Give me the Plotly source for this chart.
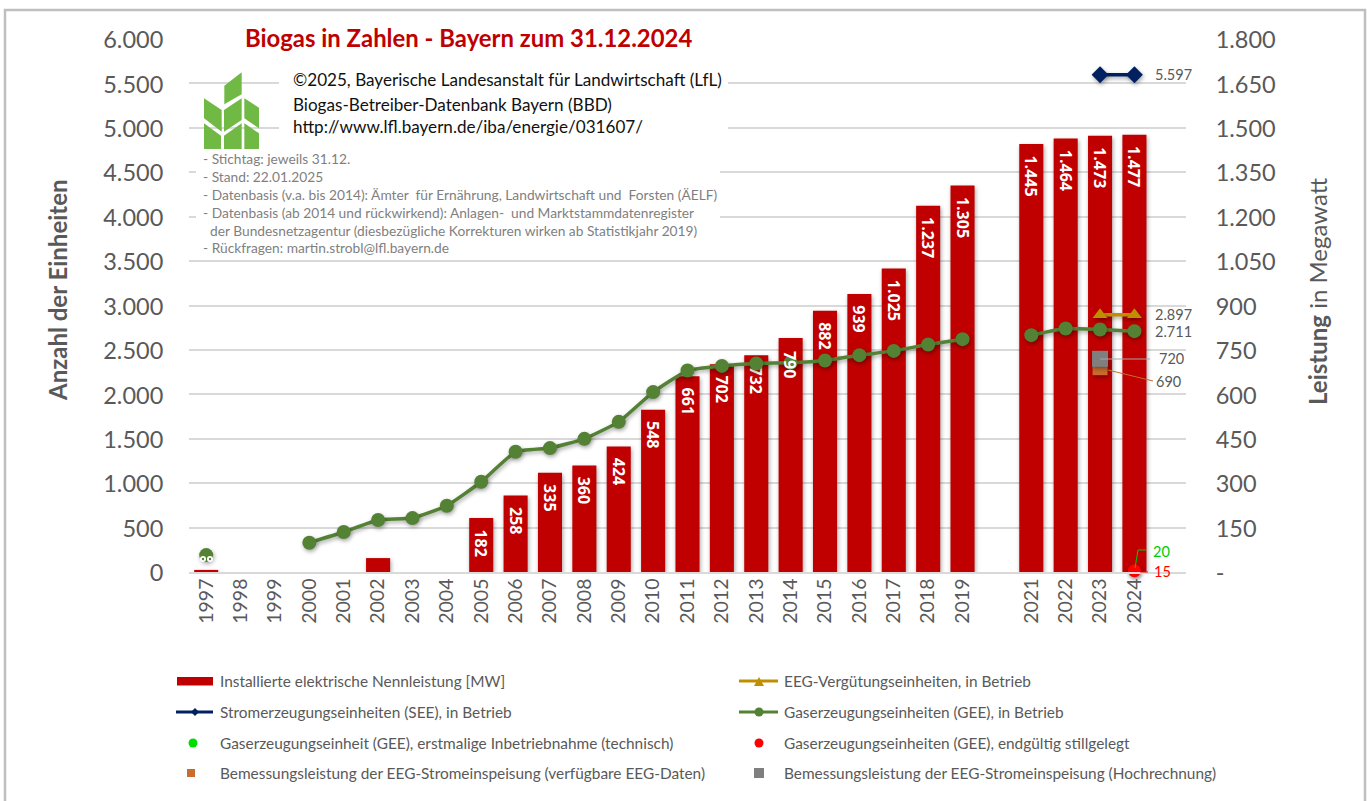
import plotly.graph_objects as go

categories = ["1997","1998","1999","2000","2001","2002","2003","2004","2005","2006","2007","2008","2009","2010",
              "2011","2012","2013","2014","2015","2016","2017","2018","2019"," ","2021","2022","2023","2024","  "]
leistung_mw = [7,None,None,None,None,47,None,None,182,258,335,360,424,548,661,702,732,790,882,939,1025,1237,1305,None,1445,1464,1473,1477,None]
gee_betrieb = [190,None,None,330,450,585,607,746,1016,1353,1395,1499,1690,2025,2268,2320,2347,2356,2381,2441,2489,2561,2621,None,2666,2741,2730,2711,None]
see_betrieb = {"2023":5597,"2024":5597}
eeg_betrieb = {"2023":2897,"2024":2897}
gee_neu = {"2024":20}
gee_still = {"2024":15}
bem_eeg = {"2023":690}
bem_hoch = {"2023":720}
left_ticks = [0,500,1000,1500,2000,2500,3000,3500,4000,4500,5000,5500,6000]
right_ticks = [0,150,300,450,600,750,900,1050,1200,1350,1500,1650,1800]
right_labels = ["-","150","300","450","600","750","900","1.050","1.200","1.350","1.500","1.650","1.800"]

FONT = "Lato"
GREY = "#595959"
RED = "#c00000"
GREEN = "#548235"
NAVY = "#002060"
GOLD = "#bf8f00"
ORANGE = "#c96c2e"
SQ = "#7f7f7f"
L, R, T, B = 189, 1186, 39, 572


def X(p):
    return (p - L) / (R - L)


def Y(p):
    return (B - p) / (B - T)


def fmt(v):
    return f"{v:,}".replace(",", ".")


LABEL_FONT = dict(family="Open Sans", size=16, color="white", weight="bold")
# the 2014 label sits in front of the GEE line, so it is drawn as an annotation
bar_text = ["\u00a0\u00a0" + fmt(v) if v and v > 100 and c != "2014" else "" for c, v in zip(categories, leistung_mw)]

fig = go.Figure()
fig.add_bar(x=categories, y=leistung_mw, yaxis="y", marker=dict(color=RED, line=dict(width=0)), width=0.7,
            text=bar_text, textposition="inside", insidetextanchor="end", textangle=90, constraintext="none",
            textfont=LABEL_FONT,
            name="Installierte elektrische Nennleistung [MW]", showlegend=False, cliponaxis=False)


def pts(name, d, axis, color, symbol, size, line=False):
    fig.add_scatter(x=list(d), y=list(d.values()), yaxis=axis, name=name, showlegend=False,
                    mode="lines+markers" if line else "markers", cliponaxis=False,
                    line=dict(color=color, width=3.5), marker=dict(color=color, symbol=symbol, size=size))


pts("Bemessungsleistung der EEG-Stromeinspeisung (verfügbare EEG-Daten)", bem_eeg, "y", ORANGE, "square", 15)
pts("Bemessungsleistung der EEG-Stromeinspeisung (Hochrechnung)", bem_hoch, "y", SQ, "square", 16)
fig.add_scatter(x=categories, y=gee_betrieb, yaxis="y2", mode="lines+markers", name="Gaserzeugungseinheiten (GEE), in Betrieb",
                showlegend=False, connectgaps=False, cliponaxis=False,
                line=dict(color=GREEN, width=3.5, shape="spline", smoothing=0.4),
                marker=dict(color=GREEN, size=14))
pts("EEG-Vergütungseinheiten, in Betrieb", eeg_betrieb, "y2", GOLD, "triangle-up", 13, True)
pts("Stromerzeugungseinheiten (SEE), in Betrieb", see_betrieb, "y2", NAVY, "diamond", 13, True)
pts("Gaserzeugungseinheit (GEE), erstmalige Inbetriebnahme (technisch)", gee_neu, "y2", "#00cc00", "circle", 11)
pts("Gaserzeugungseinheiten (GEE), endgültig stillgelegt", gee_still, "y2", "#ff0000", "circle", 13)

shapes = []


def rect(x0, y0, x1, y1, fill, line=None, lw=0):
    shapes.append(dict(type="rect", xref="paper", yref="paper", x0=X(x0), x1=X(x1), y0=Y(y0), y1=Y(y1),
                       fillcolor=fill, line=dict(color=line or fill, width=lw), layer="above"))


def poly(points, fill):
    path = "M " + " L ".join(f"{X(a):.5f},{Y(b):.5f}" for a, b in points) + " Z"
    shapes.append(dict(type="path", xref="paper", yref="paper", path=path, fillcolor=fill, line=dict(width=0), layer="above"))


def seg(points, color, w):
    path = "M " + " L ".join(f"{X(a):.5f},{Y(b):.5f}" for a, b in points)
    shapes.append(dict(type="path", xref="paper", yref="paper", path=path, line=dict(color=color, width=w), layer="above"))


def dot(cx, cy, r, color, line=None, lw=0):
    shapes.append(dict(type="circle", xref="paper", yref="paper", x0=X(cx - r), x1=X(cx + r), y0=Y(cy - r), y1=Y(cy + r),
                       fillcolor=color, line=dict(color=line or color, width=lw), layer="above"))


# frame
rect(5, 10, 1365, 812, "rgba(0,0,0,0)", "#bfbfbf", 2.5)
# white text backgrounds over the gridlines
rect(232, 26, 742, 50, "white")
rect(279, 70, 728, 140, "white")
rect(196, 150, 720, 255, "white")

# logo
LOGO = "#70b944"
for leaf in [[(88,62),(140,22),(140,88),(88,118)], [(27,100),(80,135),(80,200),(27,160)], [(87,135),(140,100),(140,165),(87,200)],
             [(148,100),(192,128),(192,190),(148,160)], [(27,175),(78,212),(78,252),(27,252)], [(87,212),(140,175),(140,252),(87,252)],
             [(148,175),(192,205),(192,252),(148,252)]]:
    poly([(195 + a / 3, 65 + b / 3) for a, b in leaf], LOGO)

# small markers under the 1997 point
for cx in (203, 210):
    dot(cx, 559, 3, "white")
    dot(cx, 559, 1.2, GREEN)

# leader lines
seg([(1100, 359), (1150, 359)], "#a6a6a6", 1)
seg([(1108, 370), (1153, 381)], ORANGE, 1)
seg([(1135, 568), (1138, 550), (1146, 550)], "#00cc00", 1)
seg([(1140, 572), (1148, 572)], "#ff0000", 1)

# legend keys
ROW = [681, 712, 743, 773]
rect(177, 677, 213, 685.5, RED)
seg([(176, 712), (213, 712)], NAVY, 3)
poly([(195, 708), (199, 712), (195, 716), (191, 712)], NAVY)
seg([(739, 681), (778, 681)], GOLD, 3)
poly([(759, 677), (764, 686), (754, 686)], GOLD)
seg([(739, 712), (778, 712)], GREEN, 3)
dot(759, 712, 4.5, GREEN)
dot(193, 743, 4.5, "#00dd00")
dot(759, 743, 4.5, "#ff0000")
rect(187, 769, 195, 777, ORANGE)
rect(754, 768, 764, 778, SQ)

ann = []


def txt(x, y, s, size, color=GREY, bold=False, anchor="left", angle=0):
    ann.append(dict(xref="paper", yref="paper", x=X(x), y=Y(y), text=s, showarrow=False, xanchor=anchor, yanchor="middle", textangle=angle,
                    font=dict(family=FONT, size=size, color=color, weight="bold" if bold else "normal"), align="left"))


def val(cat, v, yax, s, color, shift, size=14.5):
    ann.append(dict(xref="x", yref=yax, x=categories.index(cat), y=v, text=s, showarrow=False, xanchor="left", yanchor="middle", xshift=shift[0], yshift=shift[1],
                    font=dict(family=FONT, size=size, color=color)))


txt(468, 38, "Biogas in Zahlen - Bayern zum 31.12.2024", 23.9, RED, True, "center")
txt(291, 80, "©2025, Bayerische Landesanstalt für Landwirtschaft (LfL)", 17.1, "#111111")
txt(291, 104, "Biogas-Betreiber-Datenbank Bayern (BBD)", 17.1, "#111111")
txt(291, 126, "http://www.lfl.bayern.de/iba/energie/031607/", 17.1, "#111111")
notes = ["- Stichtag: jeweils 31.12.", "- Stand: 22.01.2025",
         "- Datenbasis (v.a. bis 2014): Ämter\u00a0 für Ernährung, Landwirtschaft und\u00a0 Forsten (ÄELF)",
         "- Datenbasis (ab 2014 und rückwirkend): Anlagen-\u00a0 und Marktstammdatenregister",
         "\u00a0\u00a0der Bundesnetzagentur (diesbezügliche Korrekturen wirken ab Statistikjahr 2019)",
         "- Rückfragen: martin.strobl@lfl.bayern.de"]
for y, s in zip([158, 176, 194, 212, 230, 248], notes):
    txt(201, y, s, 13.75, "#7f7f7f")

val("2024", see_betrieb["2024"], "y2", fmt(see_betrieb["2024"]), GREY, (19, 0))
val("2024", eeg_betrieb["2024"], "y2", fmt(eeg_betrieb["2024"]), GREY, (19, 0))
val("2024", gee_betrieb[27], "y2", fmt(gee_betrieb[27]), GREY, (19, 0))
val("2023", bem_hoch["2023"], "y", fmt(bem_hoch["2023"]), GREY, (57, 0))
val("2023", bem_eeg["2023"], "y", fmt(bem_eeg["2023"]), GREY, (54, -14))
val("2024", gee_neu["2024"], "y2", str(gee_neu["2024"]), "#00cc00", (17, 19))
val("2024", gee_still["2024"], "y2", str(gee_still["2024"]), "#ff0000", (18, -1))

ann.append(dict(xref="x", yref="y", x=categories.index("2014"), y=leistung_mw[categories.index("2014")], text=fmt(leistung_mw[categories.index("2014")]),
                showarrow=False, textangle=90, xanchor="center", yanchor="top", yshift=-11, font=LABEL_FONT))

txt(57, 291, "<b>Anzahl der Einheiten</b>", 24, GREY, False, "center", -90)
txt(1317, 291, "<b>Leistung</b> in Megawatt", 24, GREY, False, "center", -90)

legend_rows = [(218, ROW[0], "Installierte elektrische Nennleistung [MW]"), (782, ROW[0], "EEG-Vergütungseinheiten, in Betrieb"),
               (218, ROW[1], "Stromerzeugungseinheiten (SEE), in Betrieb"), (782, ROW[1], "Gaserzeugungseinheiten (GEE), in Betrieb"),
               (218, ROW[2], "Gaserzeugungseinheit (GEE), erstmalige Inbetriebnahme (technisch)"), (782, ROW[2], "Gaserzeugungseinheiten (GEE), endgültig stillgelegt"),
               (218, ROW[3], "Bemessungsleistung der EEG-Stromeinspeisung (verfügbare EEG-Daten)"), (782, ROW[3], "Bemessungsleistung der EEG-Stromeinspeisung (Hochrechnung)")]
for x, y, s in legend_rows:
    txt(x, y, s, 15.4)

fig.update_layout(
    width=1367, height=801, margin=dict(l=L, r=1367 - R, t=T, b=801 - B, autoexpand=False),
    paper_bgcolor="white", plot_bgcolor="white", separators=",.", bargap=0.3, hovermode=False,
    font=dict(family=FONT, color=GREY),
    xaxis=dict(type="category", categoryorder="array", categoryarray=categories, range=[-0.5, 28.5], tickangle=-90,
               tickfont=dict(size=19.5, color=GREY), ticks="", ticklen=0, ticklabelstandoff=-3,
               showgrid=False, showline=True, linecolor="#d9d9d9", linewidth=1.5, automargin=False),
    yaxis=dict(side="right", range=[0, 1800], tickvals=right_ticks, ticktext=right_labels, showgrid=False, zeroline=False,
               tickfont=dict(size=23.5, color=GREY), ticks="outside", ticklen=24, tickcolor="rgba(0,0,0,0)", automargin=False, ticklabelshift=1),
    yaxis2=dict(side="left", overlaying="y", range=[0, 6000], tickvals=left_ticks, tickformat=",d", showgrid=True, gridcolor="#d9d9d9",
                gridwidth=1.5, zeroline=False, tickfont=dict(size=23.5, color=GREY), ticks="outside", ticklen=20, tickcolor="rgba(0,0,0,0)",
                automargin=False, ticklabelshift=1),
    shapes=shapes, annotations=ann,
)

shadow = """
document.body.style.margin = '0';
var s = document.createElement('style');
s.textContent = '.barlayer .point path, .scatterlayer .points path, .scatterlayer .lines path {filter: drop-shadow(1px 2px 2px rgba(0,0,0,.35));}';
document.head.appendChild(s);
"""
fig.write_html("out.html", post_script=shadow, config=dict(displayModeBar=False))
